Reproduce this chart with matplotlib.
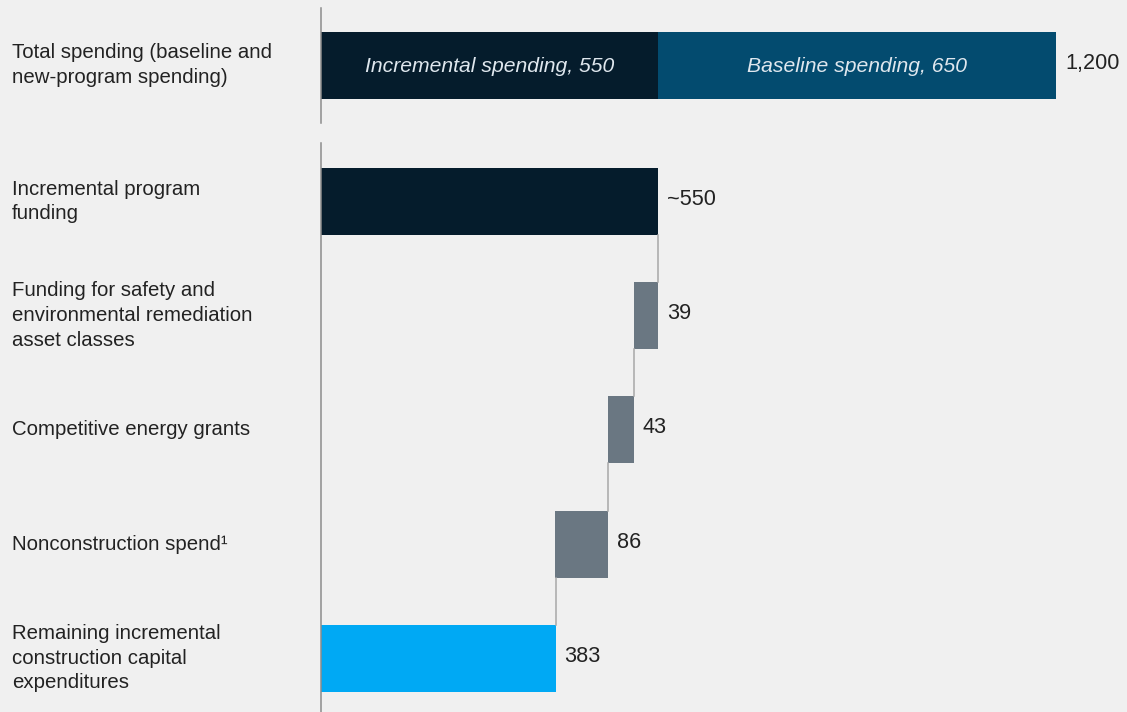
import matplotlib
matplotlib.use("Agg")
import matplotlib.pyplot as plt

plt.rcParams['font.family'] = ['Liberation Sans', 'DejaVu Sans']

# ---- data ----
total_label = "Total spending (baseline and\nnew-program spending)"
total_segments = ["Incremental spending", "Baseline spending"]
total_values = [550, 650]
total_sum_label = "1,200"

step_labels = [
    "Incremental program\nfunding",
    "Funding for safety and\nenvironmental remediation\nasset classes",
    "Competitive energy grants",
    "Nonconstruction spend\u00b9",
    "Remaining incremental\nconstruction capital\nexpenditures",
]
step_values = [550, 39, 43, 86, 383]
step_value_labels = ["~550", "39", "43", "86", "383"]

# ---- style ----
BG = "#f0f0f0"
NAVY = "#051c2c"
DEEP_BLUE = "#034b6f"
GREY = "#6a7782"
CYAN = "#00a9f4"
TEXT = "#222222"
AXIS = "#8c8c8c"
CONNECT = "#a8a8a8"

W, H = 1127, 712
fig = plt.figure(figsize=(W / 100, H / 100), dpi=100, facecolor=BG)
ax = fig.add_axes([0, 0, 1, 1], facecolor=BG)

px_per_unit = 735 / 1200.0
x0_px = 321
ax.set_xlim(-x0_px / px_per_unit, (W - x0_px) / px_per_unit)
ax.set_ylim(H, 0)
ax.axis("off")

bar_h = 67
fs_label = 14.7
fs_value = 15.6
fs_inner = 15.2
lsp = 1.38
label_x = -309 / px_per_unit  # left text column
gap_px = 9 / px_per_unit
value_dy = -2   # value labels sit slightly above bar centre
inner_dy = 2    # inner labels sit slightly below bar centre

# ---- top stacked bar ----
top_y = 65
left = 0
seg_colors = [NAVY, DEEP_BLUE]
for name, v, c in zip(total_segments, total_values, seg_colors):
    ax.barh(top_y, v, left=left, height=bar_h, color=c, linewidth=0)
    ax.text(left + v / 2, top_y + inner_dy, f"{name}, {v}", ha="center",
            va="center", fontsize=fs_inner, style="italic", color="#dfe7ee")
    left += v
ax.text(left + gap_px, top_y + value_dy, total_sum_label, ha="left",
        va="center", fontsize=fs_value, color=TEXT)
ax.text(label_x, top_y, total_label, ha="left", va="center", fontsize=fs_label,
        color=TEXT, linespacing=lsp)
ax.plot([0, 0], [8, 123], color=AXIS, lw=1.1)

# ---- waterfall ----
first_y = 201.5
spacing = 114.2
ys = [first_y + i * spacing for i in range(len(step_values))]

running = step_values[0]
for i, (lab, v, vl, y) in enumerate(zip(step_labels, step_values, step_value_labels, ys)):
    if i == 0:
        start, color = 0, NAVY
        end = v
    elif i == len(step_values) - 1:
        start, color = 0, CYAN
        end = v
    else:
        start = running - v
        end = running
        color = GREY
        running = start
    ax.barh(y, end - start, left=start, height=bar_h, color=color, linewidth=0)
    if i > 0:
        # connector from previous bar's bottom to this bar's top
        ax.plot([end, end], [ys[i - 1] + bar_h / 2, y - bar_h / 2],
                color=CONNECT, lw=1.1)
    ax.text(end + gap_px, y + value_dy, vl, ha="left", va="center",
            fontsize=fs_value, color=TEXT)
    ax.text(label_x, y, lab, ha="left", va="center", fontsize=fs_label,
            color=TEXT, linespacing=lsp)

ax.plot([0, 0], [143, H], color=AXIS, lw=1.1)

fig.savefig("out.png", dpi=100, facecolor=BG)
